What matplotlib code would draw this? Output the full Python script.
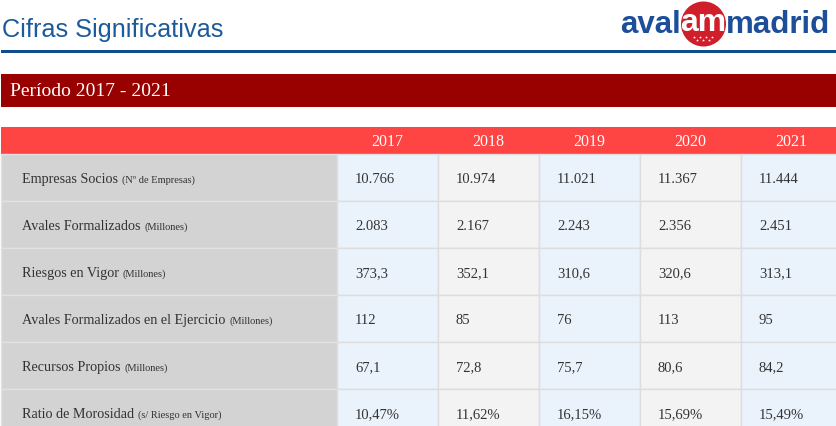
import matplotlib
matplotlib.use("Agg")
import matplotlib.pyplot as plt
from matplotlib.patches import Rectangle, Circle

# ---------------- data ----------------
title = "Cifras Significativas"
period = "Período 2017 - 2021"
years = ["2017", "2018", "2019", "2020", "2021"]
row_main = ["Empresas Socios", "Avales Formalizados", "Riesgos en Vigor",
            "Avales Formalizados en el Ejercicio", "Recursos Propios",
            "Ratio de Morosidad"]
row_unit = ["(Nº de Empresas)", "(Millones)", "(Millones)", "(Millones)",
            "(Millones)", "(s/ Riesgo en Vigor)"]
empresas_socios = [10766, 10974, 11021, 11367, 11444]
avales_formalizados = [2083, 2167, 2243, 2356, 2451]
riesgos_vigor = [373.3, 352.1, 310.6, 320.6, 313.1]
avales_ejercicio = [112, 85, 76, 113, 95]
recursos_propios = [67.1, 72.8, 75.7, 80.6, 84.2]
ratio_morosidad = [10.47, 11.62, 16.15, 15.69, 15.49]


def miles(v):
    return f"{v:,.0f}".replace(",", ".")


def dec(v, n):
    return f"{v:.{n}f}".replace(".", ",")


rows = [
    [miles(v) for v in empresas_socios],
    [miles(v) for v in avales_formalizados],
    [dec(v, 1) for v in riesgos_vigor],
    [miles(v) for v in avales_ejercicio],
    [dec(v, 1) for v in recursos_propios],
    [dec(v, 2) + "%" for v in ratio_morosidad],
]

# ---------------- layout ----------------
W, H = 837, 427
fig = plt.figure(figsize=(W / 100, H / 100), dpi=100)
ax = fig.add_axes([0, 0, 1, 1])
ax.set_xlim(0, W)
ax.set_ylim(H, 0)
ax.axis("off")

SERIF = ["Liberation Serif", "DejaVu Serif"]
TXT = "#333333"

# title and rule
ax.text(2, 30, title, fontsize=18.2, family=["Liberation Sans"], color="#1c5a9a",
        va="center", ha="left")
ax.add_patch(Rectangle((1, 50.5), W, 3.5, color="#0f4d8c", lw=0))

# logo
logo_blue = "#1d4e9a"
ax.text(681, 33, "aval", fontsize=22.5, family=["Liberation Sans"], weight="bold",
        color=logo_blue, ha="right", va="baseline")
ax.add_patch(Circle((703.5, 25), 22.5, color="#d01f2a", lw=0))
ax.text(703.5, 31, "am", fontsize=23, family=["Liberation Sans"], weight="bold",
        color="white", ha="center", va="baseline")
for i in range(7):
    xs = 694 + i * 3.0
    ys = 38 if i % 2 == 0 else 41
    ax.plot(xs, ys, marker="*", ms=2.2, color="white", mew=0)
ax.text(726, 33, "madrid", fontsize=22.5, family=["Liberation Sans"], weight="bold",
        color=logo_blue, ha="left", va="baseline")

# period banner
ax.add_patch(Rectangle((1, 75), W, 33, color="#990000", lw=0))
ax.text(10, 92, period, fontsize=14, family=SERIF, color="white",
        va="center", ha="left")

# table geometry
x_label0, x_col0, col_w = 1, 337, 101
hdr_top, hdr_h, row_h = 128, 27, 47
ax.add_patch(Rectangle((x_label0, hdr_top), W, hdr_h, color="#ff4444", lw=0))
for j, y in enumerate(years):
    ax.text(x_col0 + col_w * j + col_w / 2, hdr_top + hdr_h / 2 + 1, y,
            fontsize=11.5, family=SERIF, color="white", ha="center", va="center")

col_colors = ["#eaf3fc", "#f3f3f3"]
t0 = hdr_top + hdr_h
fig.canvas.draw()
renderer = fig.canvas.get_renderer()
for i, (lab, unit, vals) in enumerate(zip(row_main, row_unit, rows)):
    top = t0 + i * row_h
    ax.add_patch(Rectangle((x_label0, top), x_col0 - x_label0, row_h,
                           facecolor="#d3d3d3", edgecolor="#e2e2e2", lw=1))
    for j, v in enumerate(vals):
        x = x_col0 + col_w * j
        ax.add_patch(Rectangle((x, top), col_w, row_h,
                               facecolor=col_colors[j % 2],
                               edgecolor="#dddddd", lw=1))
        ax.text(x + 18, top + row_h / 2 + 1, v, fontsize=10.5, family=SERIF,
                color=TXT, ha="left", va="center")
    t = ax.text(22, top + row_h / 2 + 1, lab, fontsize=10.2, family=SERIF,
                color=TXT, ha="left", va="center")
    bb = t.get_window_extent(renderer)
    ax.text(bb.x1 + 4, top + row_h / 2 + 2, unit, fontsize=7.5, family=SERIF,
            color=TXT, ha="left", va="center")

fig.savefig("out.png", dpi=100)
